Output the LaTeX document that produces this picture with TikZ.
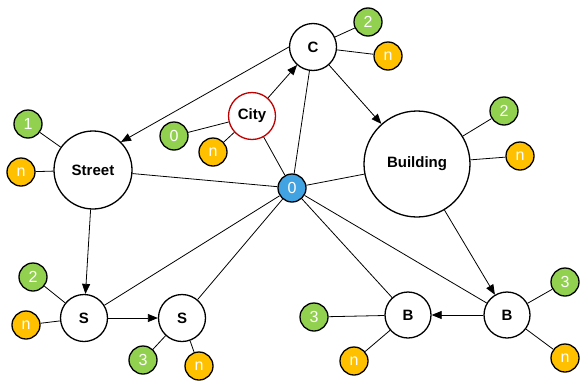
\documentclass[tikz,border=0pt]{standalone}
\usepackage{fontspec}
\setmainfont{Liberation Sans}
\usetikzlibrary{arrows.meta}
\definecolor{numgreen}{RGB}{146,208,80}
\definecolor{numorange}{RGB}{255,192,0}
\definecolor{zeroblue}{RGB}{65,163,226}
\definecolor{cityred}{RGB}{192,0,0}
\begin{document}
\begin{tikzpicture}[x=1pt,y=-1pt,
	obj_node/.style={circle,draw,fill=white,line width=1.3pt,inner sep=0pt,font=\fontsize{15}{15}\selectfont\bfseries},
	num_node/.style={circle,draw,line width=1.3pt,minimum size=28pt,inner sep=0pt,text=white,font=\fontsize{16}{16}\selectfont},
	green_node/.style={num_node,fill=numgreen},
	orange_node/.style={num_node,fill=numorange},
	every edge/.style={draw,line width=0.8pt},
	>={Triangle[length=10pt,width=8pt]}]
	\useasboundingbox (0,0) rectangle (580,383);
				% main objects
				\node[obj_node,minimum size=47pt](c) at (313,47){C};
				\node[obj_node,minimum size=47pt,draw=cityred](city) at (252,116){City};
				\node[obj_node,minimum size=78pt](street) at (93,170){Street};
				\node[obj_node,minimum size=106pt](building) at (417,164){Building};
				\node[num_node,fill=zeroblue](zero) at (292,188){0};
				\node[obj_node,minimum size=47pt](s1) at (84,318){S};
				\node[obj_node,minimum size=47pt](s2) at (182,318){S};
				\node[obj_node,minimum size=46pt](b1) at (408,315){B};
				\node[obj_node,minimum size=46pt](b2) at (507,315){B};
				% numbers
				\node[green_node](c_2) at (368,22){2};
				\node[orange_node](c_n) at (388,56){n};
				\node[green_node](city_0) at (174,136){0};
				\node[orange_node](city_n) at (213,152){n};
				\node[green_node](street_1) at (28,124){1};
				\node[orange_node](street_n) at (21,172){n};
				\node[green_node](building_2) at (504,111){2};
				\node[orange_node](building_n) at (520,156){n};
				\node[green_node](s1_2) at (33,277){2};
				\node[orange_node](s1_n) at (26,325){n};
				\node[green_node](s2_3) at (143,360){3};
				\node[orange_node](s2_n) at (199,366){n};
				\node[green_node](b1_3) at (314,317){3};
				\node[orange_node](b1_n) at (354,361){n};
				\node[green_node](b2_3) at (565,282){3};
				\node[orange_node](b2_n) at (565,358){n};
				\path
				(city) edge[->] (c)
				(c.west) edge[->] (street.45)
				(c) edge[->] (building)
				(street) edge[->] (s1)
				(s1) edge[->] (s2)
				(building) edge[->] (b2)
				(b2) edge[->] (b1)
				(zero) edge (c)
				(zero) edge (city)
				(zero) edge (street)
				(zero) edge (building)
				(zero) edge (s1)
				(zero) edge (s2)
				(zero) edge (b1)
				(zero) edge (b2)
				(c) edge (c_2)
				(c) edge (c_n)
				(city) edge (city_0)
				(city) edge (city_n)
				(street) edge (street_1)
				(street) edge (street_n)
				(building) edge (building_2)
				(building) edge (building_n)
				(s1) edge (s1_2)
				(s1) edge (s1_n)
				(s2) edge (s2_3)
				(s2) edge (s2_n)
				(b1) edge (b1_3)
				(b1) edge (b1_n)
				(b2) edge (b2_3)
				(b2) edge (b2_n);
			\end{tikzpicture}
\end{document}
